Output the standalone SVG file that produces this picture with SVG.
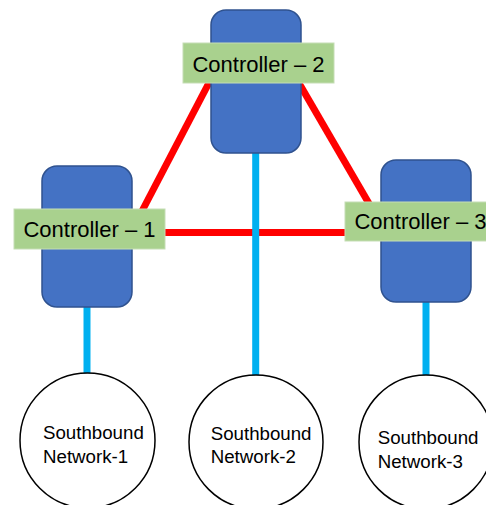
<svg xmlns="http://www.w3.org/2000/svg" width="486" height="505" viewBox="0 0 486 505">
  <style>
    .ctrl { fill: #4472C4; stroke: #2F528F; stroke-width: 1.5; }
    .label { fill: #A9D18E; stroke: #C5DDB5; stroke-width: 1; }
    .label-text { font-family: "Liberation Sans", Arial, sans-serif; font-size: 22px; fill: #000; text-anchor: middle; }
    .net { fill: #FFFFFF; stroke: #000; stroke-width: 1.5; }
    .net-text { font-family: "Liberation Sans", Arial, sans-serif; font-size: 18.7px; fill: #000; }
    .peer { stroke: #FF0000; stroke-width: 7; fill: none; }
    .south { stroke: #00B0F0; stroke-width: 7; fill: none; }
  </style>

  <!-- controller-to-controller (east-west) links -->
  <g id="connectors">
    <line class="peer" x1="141" y1="213" x2="212" y2="77"/>
    <line class="peer" x1="296" y1="78" x2="371" y2="207"/>
    <line class="peer" x1="160" y1="232.5" x2="350" y2="232.5"/>
    <!-- southbound links -->
    <line class="south" x1="87" y1="300" x2="87" y2="374"/>
    <line class="south" x1="255.7" y1="150" x2="255.7" y2="376"/>
    <line class="south" x1="426" y1="298" x2="426" y2="376"/>
  </g>

  <g id="controller-1">
    <rect class="ctrl" x="42" y="166" width="90" height="141" rx="15" ry="15"/>
    <rect class="label" x="14" y="209" width="151" height="40"/>
    <text class="label-text" x="89.5" y="236.5">Controller – 1</text>
  </g>

  <g id="controller-2">
    <rect class="ctrl" x="211" y="10" width="90" height="143" rx="15" ry="15"/>
    <rect class="label" x="183" y="43" width="151" height="40"/>
    <text class="label-text" x="258.5" y="71.5">Controller – 2</text>
  </g>

  <g id="controller-3">
    <rect class="ctrl" x="381" y="160" width="90" height="142" rx="15" ry="15"/>
    <rect class="label" x="345" y="202" width="151" height="39"/>
    <text class="label-text" x="420.5" y="229.3">Controller – 3</text>
  </g>

  <g id="network-1">
    <circle class="net" cx="87.5" cy="440.5" r="67.5"/>
    <text class="net-text" x="43" y="439.3">Southbound</text>
    <text class="net-text" x="43" y="462.7">Network-1</text>
  </g>

  <g id="network-2">
    <circle class="net" cx="256" cy="442" r="67"/>
    <text class="net-text" x="210.7" y="440">Southbound</text>
    <text class="net-text" x="210.7" y="463">Network-2</text>
  </g>

  <g id="network-3">
    <circle class="net" cx="426" cy="442" r="67"/>
    <text class="net-text" x="377.7" y="444.3">Southbound</text>
    <text class="net-text" x="377.7" y="467.7">Network-3</text>
  </g>
</svg>
